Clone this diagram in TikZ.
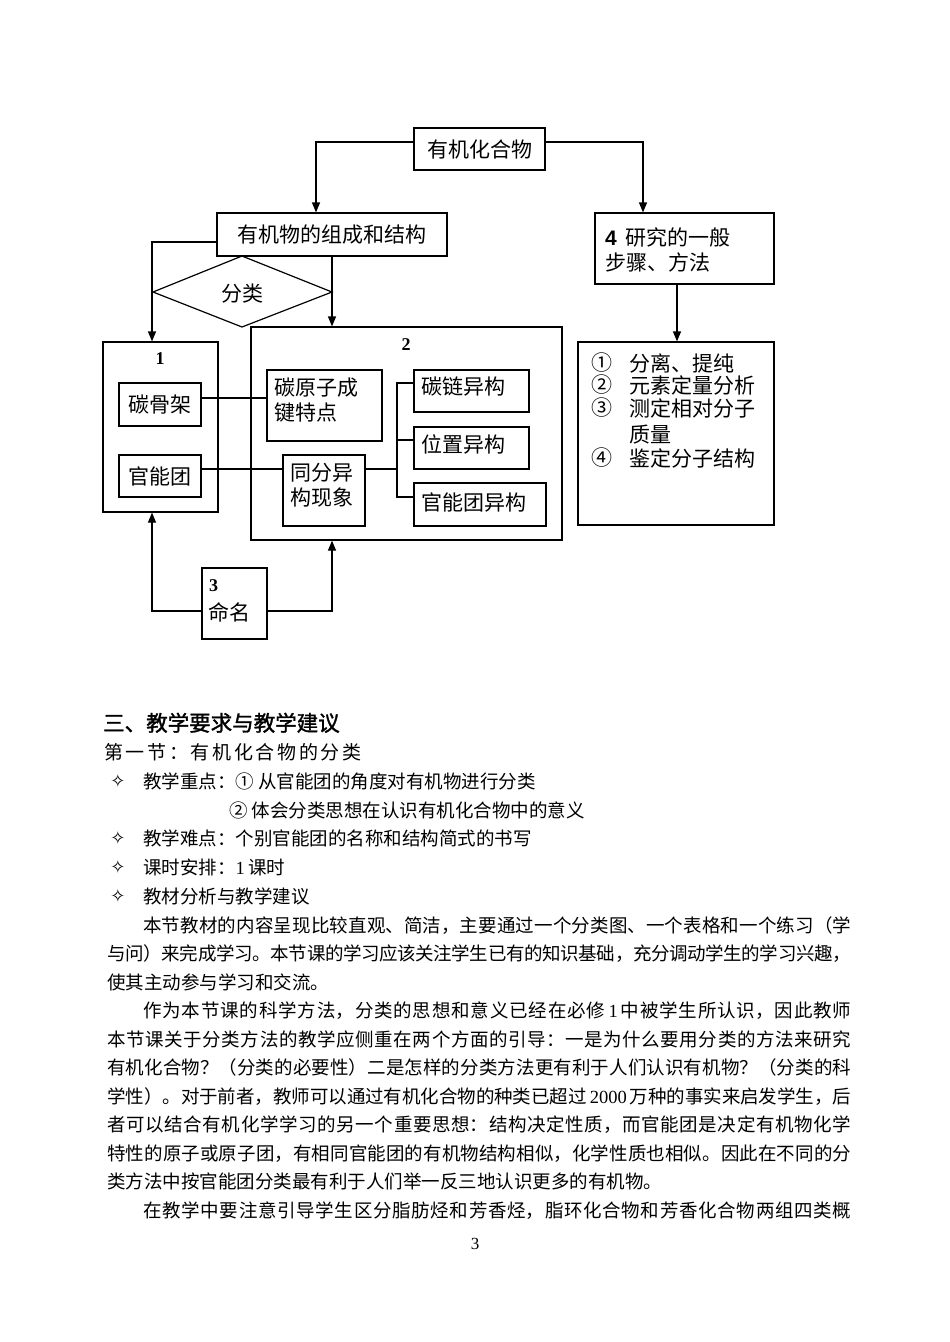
\documentclass[tikz,border=0pt]{standalone}
\usepackage{fontspec}
\setmainfont{Liberation Serif}
\newfontfamily\cjk{Noto Sans CJK SC}
\newfontfamily\cjkb[FakeBold=1.5]{Noto Sans CJK SC}
\newfontfamily\arialf{Liberation Sans}
\newfontfamily\djv{DejaVu Sans}
\usetikzlibrary{arrows.meta,calc}
\newcommand\lat[1]{{\rmfamily #1}}
\newcommand\jl[2]{\parbox[b]{#1}{\XeTeXlinebreaklocale "zh"\XeTeXlinebreakskip=0pt plus 30pt minus 1pt\parfillskip=0pt\parindent=0pt\relax #2}}
\tikzset{
  box/.style={draw, line width=1.2pt, inner sep=0pt, font=\cjk\fontsize{21}{26}\selectfont},
  ln/.style={line width=1.2pt},
  arr/.style={line width=1.2pt, -{Triangle[length=10pt,width=8pt]}},
  dtxt/.style={inner sep=0pt, font=\cjk\fontsize{21}{25}\selectfont},
  ltxt/.style={inner sep=0pt, anchor=west, font=\cjk\fontsize{21}{25}\selectfont},
  numlab/.style={inner sep=0pt, font=\rmfamily\bfseries\fontsize{18}{20}\selectfont},
  btxt/.style={inner sep=0pt, anchor=base west, font=\cjk\fontsize{18.5}{28}\selectfont},
  star/.style={inner sep=0pt, font=\djv\fontsize{18}{20}\selectfont},
}
\begin{document}
\begin{tikzpicture}[x=1pt,y=-1pt]
\useasboundingbox (0,0) rectangle (950,1342);
\fill[white] (0,0) rectangle (950,1342);

% ---------- diagram boxes ----------
\node[box, minimum width=131pt, minimum height=42pt] (top) at (479.5,149) {有机化合物};
\node[box, minimum width=230pt, minimum height=43pt] (comp) at (332,234.5) {有机物的组成和结构};
\node[box, minimum width=179pt, minimum height=71pt] (b4) at (684.5,248.5) {};
\node[box, minimum width=196pt, minimum height=183pt] (list) at (676,433.5) {};
\node[box, minimum width=115pt, minimum height=170pt] (b1) at (160.5,427) {};
\node[box, minimum width=311pt, minimum height=213pt] (b2) at (406.5,433.5) {};
\node[box, minimum width=82pt, minimum height=43pt] (tgj) at (160,404.5) {碳骨架};
\node[box, minimum width=82pt, minimum height=42pt] (gnt) at (160,476) {官能团};
\node[box, minimum width=115pt, minimum height=71pt] (tyz) at (324.5,405.5) {};
\node[box, minimum width=82pt, minimum height=71pt] (tfy) at (324,490.5) {};
\node[box, minimum width=115pt, minimum height=42pt] (tly) at (471.5,391) {};
\node[box, minimum width=115pt, minimum height=42pt] (wzy) at (471.5,448) {};
\node[box, minimum width=132pt, minimum height=43pt] (gny) at (480,504.5) {};
\node[box, minimum width=65pt, minimum height=71pt] (b3) at (234.5,603.5) {};

% diamond
\coordinate (dl) at (153,292);
\coordinate (dt) at (242,256);
\coordinate (dr) at (332,292);
\coordinate (db) at (242,327);
\draw[ln, line join=miter] (dl) -- (dt) -- (dr) -- (db) -- cycle;
\node[dtxt] (fenlei) at (242,294) {分类};

% ---------- texts inside boxes ----------
\node[numlab] (n1) at (160,359) {1};
\node[numlab] (n2) at (406,345) {2};
\node[numlab, anchor=west] (n3) at (209,586) {3};
\node[ltxt] (mm) at (208,612) {命名};
\node[ltxt, align=left] (b4t) at (605,250) {{\arialf\bfseries 4}\, 研究的一般\\步骤、方法};
\node[ltxt, align=left] (tyzt) at (274,400) {碳原子成\\键特点};
\node[ltxt, align=left] (tfyt) at (290,485.5) {同分异\\构现象};
\node[ltxt] (tlyt) at (421,387) {碳链异构};
\node[ltxt] (wzyt) at (421,444) {位置异构};
\node[ltxt] (gnyt) at (421,502) {官能团异构};

\node[dtxt] (c1) at (602,363) {①};
\node[dtxt] (c2) at (602,385) {②};
\node[dtxt] (c3) at (602,408) {③};
\node[dtxt] (c4) at (602,458) {④};
\node[ltxt] (s1) at (629,363) {分离、提纯};
\node[ltxt] (s2) at (629,385) {元素定量分析};
\node[ltxt] (s3) at (629,408) {测定相对分子};
\node[ltxt] (s3b) at (629,435) {质量};
\node[ltxt] (s4) at (629,458) {鉴定分子结构};

% ---------- connectors ----------
\draw[arr] ([yshift=7pt]top.west) -| ([xshift=-16pt]comp.north);
\draw[arr] ([yshift=7pt]top.east) -| ([xshift=-41.5pt]b4.north);
\draw[arr] ([xshift=-7.5pt]b4.south) -- ([xshift=-7.5pt]b4.south |- list.north);
\draw[arr] ([yshift=-7.5pt]comp.west) -| ([xshift=-8.5pt]b1.north);
\draw[arr] (comp.south) -- (comp.south |- b2.north);
\draw[arr] ([yshift=-7.5pt]b3.west) -| ([xshift=-8.5pt]b1.south);
\draw[arr] ([yshift=-7.5pt]b3.east) -| (comp.south |- b2.south);
\draw[ln] ([yshift=6.5pt]tgj.east) -- ([yshift=6.5pt]tgj.east -| tyz.west);
\draw[ln] ([yshift=7pt]gnt.east) -- ([yshift=7pt]gnt.east -| tfy.west);
\coordinate (fork) at (397,469);
\draw[ln] ([yshift=7pt]gnt.east -| tfy.east) -- (fork);
\draw[ln] ([yshift=8pt]tly.west) -| (fork) |- ([yshift=7.5pt]gny.west);
\draw[ln] ([yshift=8pt]wzy.west) -- ([yshift=8pt]wzy.west -| fork);

% ---------- body text ----------
\node[inner sep=0pt, anchor=base west, font=\cjkb\fontsize{21.5}{26}\selectfont] (h1) at (103,731) {三、教学要求与教学建议};
\node[btxt, font=\cjk\addfontfeature{LetterSpace=14}\fontsize{19}{28}\selectfont] (h2) at (104,759) {第一节：有机化合物的分类};

\node[star] (st1) at (118,781) {✧};
\node[btxt] (t1) at (143,788) {教学重点：① 从官能团的角度对有机物进行分类};
\node[btxt] (t2) at (229,817) {② 体会分类思想在认识有机化合物中的意义};
\node[star] (st2) at (118,838) {✧};
\node[btxt] (t3) at (143,845) {教学难点：个别官能团的名称和结构简式的书写};
\node[star] (st3) at (118,867) {✧};
\node[btxt] (t4) at (143,874) {课时安排：\lat{1}\,课时};
\node[star] (st4) at (118,896) {✧};
\node[btxt] (t5) at (143,903) {教材分析与教学建议};

\node[btxt] (p1) at (143,932) {\jl{708pt}{本节教材的内容呈现比较直观、简洁，主要通过一个分类图、一个表格和一个练习（学}};
\node[btxt] (p2) at (107,960) {\jl{744pt}{与问）来完成学习。本节课的学习应该关注学生已有的知识基础，充分调动学生的学习兴趣，}};
\node[btxt] (p3) at (107,989) {使其主动参与学习和交流。};
\node[btxt] (p4) at (143,1017) {\jl{708pt}{作为本节课的科学方法，分类的思想和意义已经在必修\,\lat{1}\,中被学生所认识，因此教师}};
\node[btxt] (p5) at (107,1046) {\jl{744pt}{本节课关于分类方法的教学应侧重在两个方面的引导：一是为什么要用分类的方法来研究}};
\node[btxt] (p6) at (107,1074) {\jl{744pt}{有机化合物？（分类的必要性）二是怎样的分类方法更有利于人们认识有机物？（分类的科}};
\node[btxt] (p7) at (107,1103) {\jl{744pt}{学性）。对于前者，教师可以通过有机化合物的种类已超过\,\lat{2000}\,万种的事实来启发学生，后}};
\node[btxt] (p8) at (107,1131) {\jl{744pt}{者可以结合有机化学学习的另一个重要思想：结构决定性质，而官能团是决定有机物化学}};
\node[btxt] (p9) at (107,1160) {\jl{744pt}{特性的原子或原子团，有相同官能团的有机物结构相似，化学性质也相似。因此在不同的分}};
\node[btxt] (p10) at (107,1188) {类方法中按官能团分类最有利于人们举一反三地认识更多的有机物。};
\node[btxt] (p11) at (143,1217) {\jl{708pt}{在教学中要注意引导学生区分脂肪烃和芳香烃，脂环化合物和芳香化合物两组四类概}};

\node[inner sep=0pt, font=\rmfamily\fontsize{17}{20}\selectfont] (pg) at (475,1244) {3};
\end{tikzpicture}
\end{document}
